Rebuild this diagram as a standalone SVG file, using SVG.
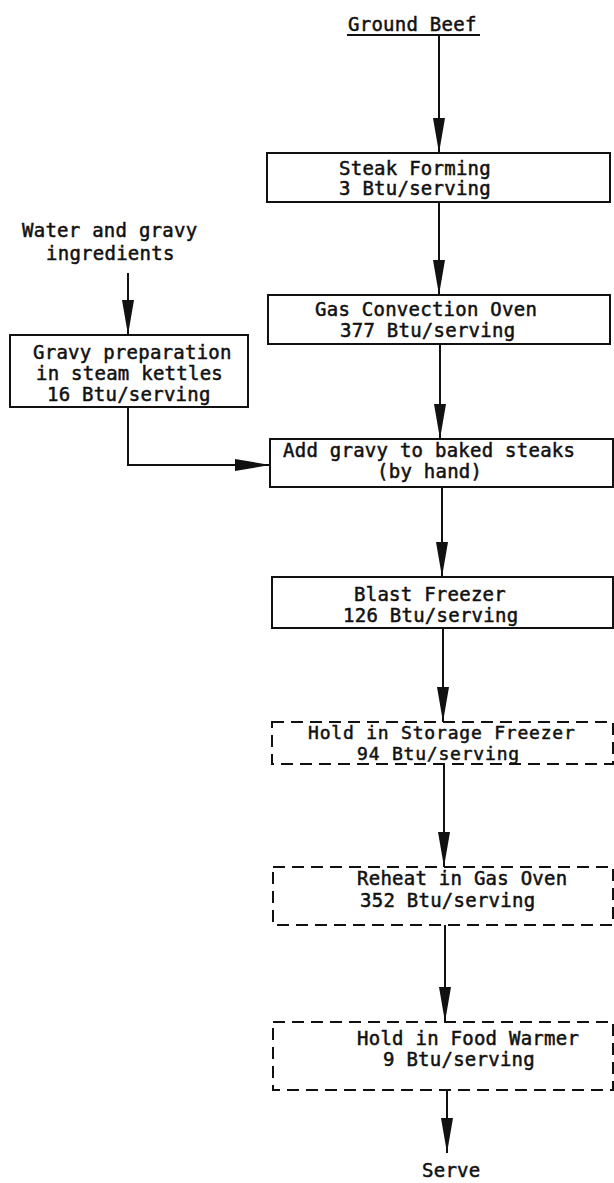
<svg xmlns="http://www.w3.org/2000/svg" width="614" height="1183" viewBox="0 0 614 1183">
<defs>
<marker id="ah" markerUnits="userSpaceOnUse" markerWidth="36" markerHeight="12" refX="35" refY="6" orient="auto">
<path d="M0,0 L35,6 L0,12 z" fill="#111"/>
</marker>
<style>
text{font-family:"DejaVu Sans Mono","Liberation Mono",monospace;font-size:19px;letter-spacing:0.25px;fill:#111;stroke:#111;stroke-width:0.5px}
.sm{font-size:18px;letter-spacing:0.8px}
.box{fill:none;stroke:#111;stroke-width:2}
.dash{fill:none;stroke:#111;stroke-width:2;stroke-dasharray:12 7}
.c{fill:none;stroke:#111;stroke-width:2;marker-end:url(#ah)}
</style>
</defs>
<rect width="614" height="1183" fill="#fff"/>
<g id="ground-beef">
<text x="348" y="31">Ground Beef</text>
<line x1="347" y1="35" x2="480" y2="35" stroke="#111" stroke-width="2"/>
</g>
<g id="water-gravy">
<text x="22" y="237">Water and gravy</text>
<text x="46" y="260">ingredients</text>
</g>
<g id="steak-forming">
<rect class="box" x="267" y="153" width="343" height="49"/>
<text x="339" y="175">Steak Forming</text>
<text x="339" y="195">3 Btu/serving</text>
</g>
<g id="gas-oven">
<rect class="box" x="268" y="295" width="342" height="49"/>
<text x="315" y="316">Gas Convection Oven</text>
<text x="340" y="337">377 Btu/serving</text>
</g>
<g id="gravy-prep">
<rect class="box" x="10" y="335" width="238" height="72"/>
<text x="33" y="359">Gravy preparation</text>
<text x="36" y="380">in steam kettles</text>
<text x="47" y="401">16 Btu/serving</text>
</g>
<g id="add-gravy">
<rect class="box" x="270" y="439" width="343" height="48"/>
<text x="283" y="457">Add gravy to baked steaks</text>
<text x="377" y="478">(by hand)</text>
</g>
<g id="blast-freezer">
<rect class="box" x="272" y="577" width="341" height="51"/>
<text x="354" y="601">Blast Freezer</text>
<text x="343" y="622">126 Btu/serving</text>
</g>
<g id="storage-freezer">
<rect class="dash" x="272" y="722" width="341" height="42"/>
<text class="sm" x="308" y="739">Hold in Storage Freezer</text>
<text class="sm" x="357" y="760">94 Btu/serving</text>
</g>
<g id="reheat">
<rect class="dash" x="273" y="867" width="340" height="58"/>
<text x="357" y="885">Reheat in Gas Oven</text>
<text x="360" y="907">352 Btu/serving</text>
</g>
<g id="food-warmer">
<rect class="dash" x="273" y="1022" width="340" height="68"/>
<text x="357" y="1045">Hold in Food Warmer</text>
<text x="383" y="1066">9 Btu/serving</text>
</g>
<g id="serve">
<text x="422" y="1177">Serve</text>
</g>
<g id="connectors">
<path class="c" d="M439,35 L439,153"/>
<path class="c" d="M439,202 L439,295"/>
<path class="c" d="M128,273 L128,335"/>
<path class="c" d="M440,344 L440,439"/>
<path class="c" d="M128,407 L128,465 L270,465"/>
<path class="c" d="M442,487 L442,577"/>
<path class="c" d="M443,628 L443,722"/>
<path class="c" d="M444,764 L444,867"/>
<path class="c" d="M445,925 L445,1022"/>
<path class="c" d="M447,1090 L447,1153"/>
</g>
</svg>
